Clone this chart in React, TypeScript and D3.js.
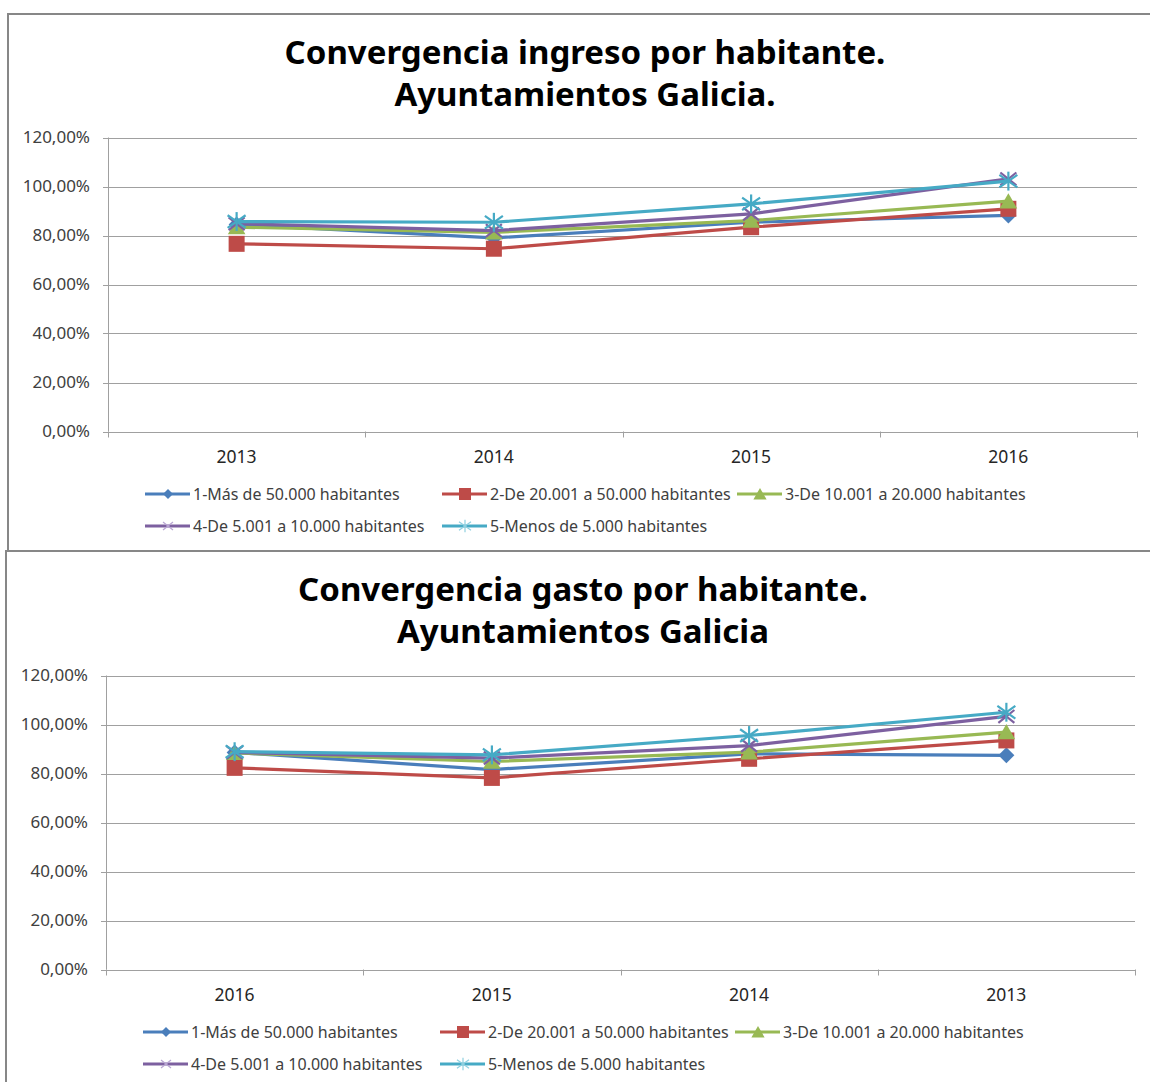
import React from "react";
import * as d3 from "d3";

const seriesNames = [
  "1-Más de 50.000 habitantes",
  "2-De 20.001 a 50.000 habitantes",
  "3-De 10.001 a 20.000 habitantes",
  "4-De 5.001 a 10.000 habitantes",
  "5-Menos de 5.000 habitantes",
];
const seriesColors = ["#4A7EBB", "#BE4B48", "#98B954", "#7D60A0", "#46AAC5"];
const seriesMarkers = ["diamond", "square", "triangle", "x", "star"];

const yTicks = [0, 0.2, 0.4, 0.6, 0.8, 1.0, 1.2];

const ingresoYears = ["2013", "2014", "2015", "2016"];
const ingreso1 = [0.845, 0.79, 0.854, 0.882];
const ingreso2 = [0.766, 0.746, 0.834, 0.909];
const ingreso3 = [0.834, 0.813, 0.861, 0.94];
const ingreso4 = [0.848, 0.82, 0.888, 1.031];
const ingreso5 = [0.857, 0.854, 0.929, 1.022];

const gastoYears = ["2016", "2015", "2014", "2013"];
const gasto1 = [0.886, 0.816, 0.88, 0.874];
const gasto2 = [0.823, 0.782, 0.86, 0.935];
const gasto3 = [0.884, 0.849, 0.887, 0.969];
const gasto4 = [0.886, 0.863, 0.914, 1.033];
const gasto5 = [0.889, 0.876, 0.955, 1.05];

const FONT = "'Noto Sans', 'Open Sans', sans-serif";
const fmt = (v: number) => (v * 100).toFixed(2).replace(".", ",") + "%";

function Marker({ type, x, y, color, s, legend }: any) {
  switch (type) {
    case "diamond":
      return (
        <polygon
          points={`${x},${y - s} ${x + s},${y} ${x},${y + s} ${x - s},${y}`}
          fill={color}
        />
      );
    case "square":
      return <rect x={x - s} y={y - s} width={2 * s} height={2 * s} fill={color} />;
    case "triangle":
      return (
        <polygon
          points={`${x},${y - s} ${x + s * 1.1},${y + s * 0.9} ${x - s * 1.1},${y + s * 0.9}`}
          fill={color}
        />
      );
    case "x":
      return (
        <g stroke={legend ? "#b9a6d3" : color} strokeWidth={legend ? 1.2 : 2.2}>
          <line x1={x - s} y1={y - s * 0.8} x2={x + s} y2={y + s * 0.8} />
          <line x1={x - s} y1={y + s * 0.8} x2={x + s} y2={y - s * 0.8} />
        </g>
      );
    case "star":
      return (
        <g stroke={legend ? "#8fd0e0" : color} strokeWidth={legend ? 1.2 : 2.2}>
          <line x1={x - s} y1={y - s * 0.7} x2={x + s} y2={y + s * 0.7} />
          <line x1={x - s} y1={y + s * 0.7} x2={x + s} y2={y - s * 0.7} />
          <line x1={x} y1={y - s * 1.05} x2={x} y2={y + s * 1.05} />
        </g>
      );
  }
  return null;
}

function Chart({
  categories,
  series,
  frameX,
  frameY,
  frameH,
  titles,
  titleY,
  titleX,
  plotLeft,
  plotRight,
  plotTop,
  plotBottom,
  xLabelY,
  yLabelX,
  legendX,
  legendY,
}: any) {
  const x = d3.scaleBand().domain(categories).range([plotLeft, plotRight]);
  const y = d3.scaleLinear().domain([0, 1.2]).range([plotBottom, plotTop]);
  const line = d3
    .line<number>()
    .x((_, i) => (x(categories[i]) as number) + x.bandwidth() / 2)
    .y((d) => y(d));
  const boundaries = categories.map((c: string) => x(c) as number).concat([plotRight]);
  const markerSize = [8, 8, 8, 8, 9];
  const legendSize = [5, 6, 6, 5, 6];
  const rows = [
    [0, 1, 2],
    [3, 4],
  ];
  return (
    <g>
      <rect
        x={frameX}
        y={frameY}
        width={1300}
        height={frameH}
        fill="#fff"
        stroke="#878787"
        strokeWidth={2}
      />
      {titles.map((t: string, i: number) => (
        <text
          key={i}
          x={titleX}
          y={titleY[i]}
          textAnchor="middle"
          fontFamily={FONT}
          fontWeight="bold"
          fontSize={33}
          fill="#000"
        >
          {t}
        </text>
      ))}
      {yTicks.map((t) => (
        <g key={t}>
          <line
            x1={plotLeft - 5}
            x2={t === 0 ? plotLeft : plotRight}
            y1={Math.round(y(t)) + 0.5}
            y2={Math.round(y(t)) + 0.5}
            stroke="#a0a0a0"
            strokeWidth={1}
          />
          <text
            x={yLabelX}
            y={y(t)}
            dy="0.35em"
            textAnchor="end"
            fontFamily={FONT}
            fontSize={17}
            fill="#404040"
          >
            {fmt(t)}
          </text>
        </g>
      ))}
      <line
        x1={plotLeft + 0.5}
        x2={plotLeft + 0.5}
        y1={plotTop}
        y2={plotBottom}
        stroke="#a0a0a0"
      />
      <line
        x1={plotLeft}
        x2={plotRight}
        y1={Math.round(y(0)) + 0.5}
        y2={Math.round(y(0)) + 0.5}
        stroke="#a0a0a0"
      />
      {boundaries.map((b: number, i: number) => (
        <line
          key={i}
          x1={Math.round(b) + 0.5}
          x2={Math.round(b) + 0.5}
          y1={y(0)}
          y2={y(0) + 6}
          stroke="#a0a0a0"
        />
      ))}
      {categories.map((c: string) => (
        <text
          key={c}
          x={(x(c) as number) + x.bandwidth() / 2}
          y={xLabelY}
          textAnchor="middle"
          fontFamily={FONT}
          fontSize={17.5}
          fill="#262626"
        >
          {c}
        </text>
      ))}
      {series.map((s: number[], si: number) => (
        <g key={si}>
          <path
            d={line(s) as string}
            fill="none"
            stroke={seriesColors[si]}
            strokeWidth={3.2}
            strokeLinejoin="round"
            strokeLinecap="round"
          />
          {s.map((v, i) => (
            <Marker
              key={i}
              type={seriesMarkers[si]}
              x={(x(categories[i]) as number) + x.bandwidth() / 2}
              y={y(v)}
              color={seriesColors[si]}
              s={markerSize[si]}
            />
          ))}
        </g>
      ))}
      {rows.map((r, ri) =>
        r.map((si, k) => {
          const lx = legendX[k];
          const ly = legendY[ri];
          return (
            <g key={si}>
              <line
                x1={lx}
                x2={lx + 45}
                y1={ly}
                y2={ly}
                stroke={seriesColors[si]}
                strokeWidth={3.2}
              />
              <Marker
                type={seriesMarkers[si]}
                x={lx + 23}
                y={ly}
                color={seriesColors[si]}
                s={legendSize[si]}
                legend
              />
              <text
                x={lx + 48}
                y={ly}
                dy="0.35em"
                fontFamily={FONT}
                fontSize={16}
                fill="#404040"
              >
                {seriesNames[si]}
              </text>
            </g>
          );
        })
      )}
    </g>
  );
}

export default function App() {
  return (
    <svg
      width={1150}
      height={1082}
      style={{ position: "absolute", left: 0, top: 0, background: "#fff" }}
    >
      <rect x={0} y={0} width={1150} height={1082} fill="#fff" />
      <Chart
        categories={ingresoYears}
        series={[ingreso1, ingreso2, ingreso3, ingreso4, ingreso5]}
        frameX={8}
        frameY={14}
        frameH={537}
        titles={["Convergencia ingreso por habitante.", "Ayuntamientos Galicia."]}
        titleY={[64, 106]}
        titleX={585}
        plotLeft={108}
        plotRight={1137}
        plotTop={137.5}
        plotBottom={431.5}
        xLabelY={463}
        yLabelX={90}
        legendX={[145, 442, 737]}
        legendY={[494, 526]}
      />
      <Chart
        categories={gastoYears}
        series={[gasto1, gasto2, gasto3, gasto4, gasto5]}
        frameX={6}
        frameY={551}
        frameH={600}
        titles={["Convergencia gasto por habitante.", "Ayuntamientos Galicia"]}
        titleY={[601, 643]}
        titleX={583}
        plotLeft={106}
        plotRight={1135}
        plotTop={675.5}
        plotBottom={969.5}
        xLabelY={1001}
        yLabelX={88}
        legendX={[143, 440, 735]}
        legendY={[1032, 1064]}
      />
    </svg>
  );
}
